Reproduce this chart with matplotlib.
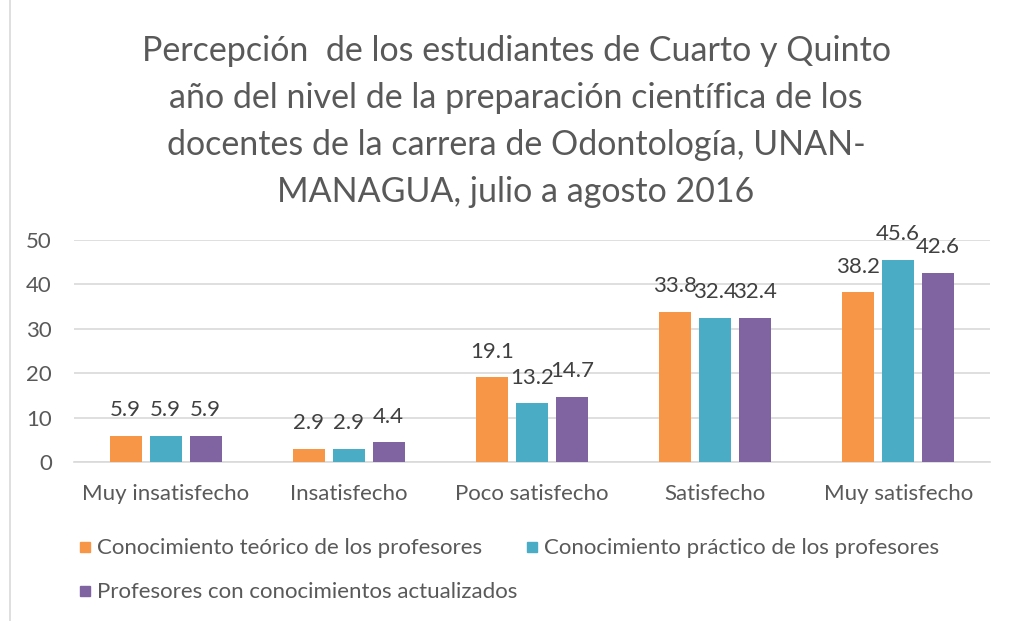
import matplotlib
matplotlib.use("Agg")
import matplotlib.pyplot as plt
import numpy as np
from matplotlib.patches import Rectangle

categories = ["Muy insatisfecho", "Insatisfecho", "Poco satisfecho", "Satisfecho", "Muy satisfecho"]
series_names = ["Conocimiento teórico de los profesores",
                "Conocimiento práctico de los profesores",
                "Profesores con conocimientos actualizados"]
teorico = [5.9, 2.9, 19.1, 33.8, 38.2]
practico = [5.9, 2.9, 13.2, 32.4, 45.6]
actualizados = [5.9, 4.4, 14.7, 32.4, 42.6]
yticks = [0, 10, 20, 30, 40, 50]
title = ("Percepción  de los estudiantes de Cuarto y Quinto\n"
         "año del nivel de la preparación científica de los\n"
         "docentes de la carrera de Odontología, UNAN-\n"
         "MANAGUA, julio a agosto 2016")

colors = ["#F79646", "#4BACC6", "#8064A2"]
txt = "#595959"
plt.rcParams['font.family'] = ['Lato', 'DejaVu Sans']
FS = 16

W, H = 1010, 621
fig = plt.figure(figsize=(W / 100, H / 100), dpi=100)
fig.patches.append(Rectangle((0.0099, -0.01), 2, 2, transform=fig.transFigure,
                             fill=False, edgecolor="#D9D9D9", lw=1.2))
ax = fig.add_axes([0.0733, 0.256, 0.9067, 0.3575])

x = np.arange(len(categories))
w = 0.175
off = 0.218
for i, (vals, c) in enumerate(zip([teorico, practico, actualizados], colors)):
    bars = ax.bar(x + (i - 1) * off, vals, w, color=c, label=series_names[i], zorder=3)
    for b, v in zip(bars, vals):
        ax.annotate(f"{v:.1f}", (b.get_x() + b.get_width() / 2, v), xytext=(0, 18.5),
                    textcoords="offset points", ha="center", va="center",
                    fontsize=FS, color="#404040")

ax.set_xlim(-0.5, len(categories) - 0.5)
ax.set_ylim(0, 50)
ax.set_yticks(yticks)
ax.yaxis.grid(True, color="#D9D9D9", lw=1.2, zorder=0)
ax.set_axisbelow(True)
for s in ["top", "right", "left"]:
    ax.spines[s].set_visible(False)
ax.spines["bottom"].set_color("#D9D9D9")
ax.spines["bottom"].set_linewidth(1.2)
ax.tick_params(axis="both", length=0, labelsize=FS, labelcolor=txt)
ax.tick_params(axis="y", pad=16)
ax.tick_params(axis="x", pad=15.5)
ax.set_xticks(x)
ax.set_xticklabels(categories)

for k, line in enumerate(title.split("\n")):
    fig.text(516 / W, 1 - (51 + 47 * k) / H, line, ha="center", va="center",
             fontsize=24.5, color=txt)

# legend drawn manually in figure pixel coordinates
leg_items = [(80, 547, 0), (527, 547, 1), (80, 591, 2)]
sq = 10
for (lx, ly, idx) in leg_items:
    fig.patches.append(Rectangle((lx / W, 1 - (ly + sq / 2) / H), sq / W, sq / H,
                                 transform=fig.transFigure, color=colors[idx]))
    fig.text((lx + sq + 7) / W, 1 - (ly + 1) / H, series_names[idx], ha="left", va="center",
             fontsize=FS, color=txt)

fig.savefig("out.png", dpi=100)
